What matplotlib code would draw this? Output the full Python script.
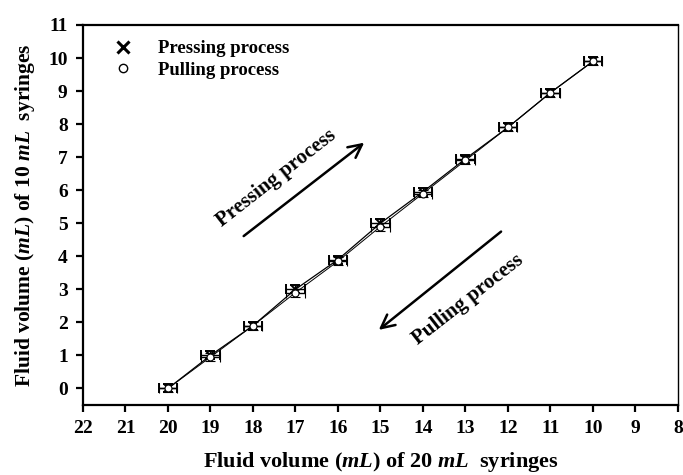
import matplotlib
matplotlib.use("Agg")
import matplotlib.pyplot as plt
from matplotlib.lines import Line2D

plt.rcParams['font.family'] = ['Liberation Serif', 'DejaVu Serif']
plt.rcParams['font.weight'] = 'bold'
plt.rcParams['mathtext.fontset'] = 'custom'
plt.rcParams['mathtext.it'] = 'Liberation Serif:italic:bold'
plt.rcParams['mathtext.rm'] = 'Liberation Serif:bold'

x_vals = [20, 19, 18, 17, 16, 15, 14, 13, 12, 11, 10]
pressing = [0.0, 1.0, 1.9, 3.0, 3.9, 5.0, 5.95, 6.95, 7.9, 8.95, 9.9]
pulling = [0.0, 0.95, 1.9, 2.9, 3.85, 4.9, 5.9, 6.9, 7.9, 8.95, 9.9]
x_err = [0.22] * 11
y_err = [0.12] * 11
x_ticks = list(range(22, 7, -1))
y_ticks = list(range(0, 12))

fig = plt.figure(figsize=(6.83, 4.75), dpi=100)
ax = fig.add_axes([0.1215, 0.1474, 0.871, 0.8])

ax.errorbar(x_vals, pressing, xerr=x_err, yerr=y_err, fmt='-', color='black',
            marker='x', markersize=6, mew=1.4, lw=0.9, elinewidth=1.0,
            capsize=3.5, capthick=1.0, label='Pressing process')
ax.errorbar(x_vals, pulling, xerr=x_err, yerr=y_err, fmt='-', color='black',
            marker='o', markersize=5, mfc='white', mec='black', mew=0.8, lw=0.7,
            elinewidth=1.0, capsize=3.5, capthick=1.0, label='Pulling process')

ax.set_xlim(22, 8)
ax.set_ylim(-0.5, 11)
ax.set_xticks(x_ticks)
ax.set_yticks(y_ticks)
ax.tick_params(direction='out', length=5, width=1.6, labelsize=14, pad=6)
for lab in ax.get_xticklabels() + ax.get_yticklabels():
    lab.set_fontweight('bold')
for s in ax.spines.values():
    s.set_linewidth(1.6)
ax.spines['right'].set_linewidth(1.0)

ax.set_xlabel(r'Fluid volume ($\mathit{mL}$) of 20 $\mathit{mL}$  syringes',
              fontsize=16, fontweight='bold', labelpad=9)
ax.set_ylabel(r'Fluid volume ($\mathit{mL}$) of 10 $\mathit{mL}$  syringes',
              fontsize=15.5, fontweight='bold', labelpad=8)

handles = [Line2D([], [], ls='none', marker='x', color='black', markersize=8, mew=2.2),
           Line2D([], [], ls='none', marker='o', mfc='white', mec='black', markersize=6, mew=1.0)]
leg = ax.legend(handles, ['Pressing process', 'Pulling process'], loc='upper left',
                frameon=False, fontsize=13.5, handletextpad=0.9, labelspacing=0.25,
                bbox_to_anchor=(0.01, 1.0), borderaxespad=0.4)
for t in leg.get_texts():
    t.set_fontweight('bold')

ax.annotate('', xy=(15.33, 7.49), xytext=(18.27, 4.56),
            arrowprops=dict(arrowstyle='->', lw=1.8, color='black', mutation_scale=24))
ax.annotate('', xy=(15.09, 1.72), xytext=(12.11, 4.8),
            arrowprops=dict(arrowstyle='->', lw=1.8, color='black', mutation_scale=24))
ax.text(17.45, 6.35, 'Pressing process', rotation=38, fontsize=15, fontweight='bold',
        ha='center', va='center', rotation_mode='anchor')
ax.text(12.93, 2.7, 'Pulling process', rotation=38, fontsize=15, fontweight='bold',
        ha='center', va='center', rotation_mode='anchor')

fig.savefig('out.png', dpi=100)
